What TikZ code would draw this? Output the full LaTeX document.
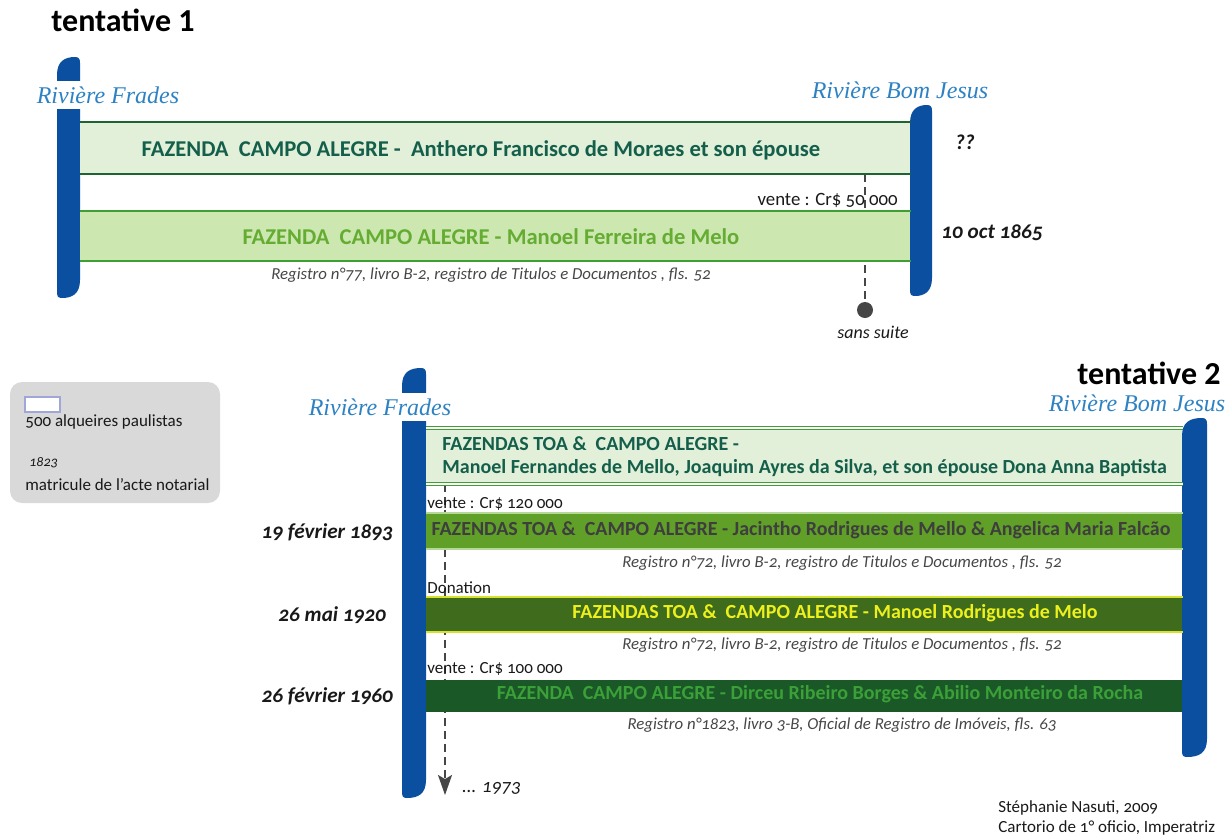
\documentclass[tikz,border=0pt]{standalone}
\usepackage{fontspec}
\setmainfont{Carlito}[Numbers=OldStyle]
\newfontfamily\riverfont{Liberation Serif}
\usetikzlibrary{arrows.meta,backgrounds}

\tikzset{
  bandbox/.style={anchor=north west, inner sep=0pt, minimum width=#1},
  bandtext/.style={font=\bfseries\fontsize{10}{11.5}\selectfont, inner sep=0pt},
  rivername/.style={font=\riverfont\itshape\fontsize{12}{14}\selectfont, text=rivertext, fill=white, inner xsep=1pt, inner ysep=3pt},
  datelabel/.style={font=\bfseries\itshape\fontsize{10.6}{12}\selectfont, text=ink},
  registre/.style={font=\itshape\fontsize{8.4}{10}\selectfont, text=note},
  transaction/.style={font=\fontsize{8.5}{10}\selectfont, text=ink, inner sep=0pt},
  tracer/.style={draw=note, line width=0.8pt, dash pattern=on 4pt off 2.5pt},
  heading/.style={font=\bfseries\fontsize{16}{18}\selectfont\addfontfeatures{Numbers=Lining}, text=black, inner sep=0pt}
}

\begin{document}
\begin{tikzpicture}[x=0.5pt,y=-0.5pt,font=\fontsize{8.5}{10}\selectfont]
  \definecolor{riverblue}{RGB}{11,79,160}
  \definecolor{rivertext}{RGB}{45,130,195}
  \definecolor{paleleaf}{RGB}{226,239,217}
  \definecolor{lightleaf}{RGB}{205,231,176}
  \definecolor{midleaf}{RGB}{96,160,40}
  \definecolor{olive}{RGB}{62,108,28}
  \definecolor{forest}{RGB}{27,88,40}
  \definecolor{darkrule}{RGB}{30,100,50}
  \definecolor{grassrule}{RGB}{62,160,52}
  \definecolor{softrule}{RGB}{182,216,150}
  \definecolor{lemonrule}{RGB}{214,226,44}
  \definecolor{tealink}{RGB}{20,95,75}
  \definecolor{grassink}{RGB}{100,172,50}
  \definecolor{greyink}{RGB}{62,62,62}
  \definecolor{lemon}{RGB}{238,240,30}
  \definecolor{forestink}{RGB}{58,160,55}
  \definecolor{ink}{RGB}{25,25,25}
  \definecolor{note}{RGB}{70,70,70}
  \definecolor{legendgray}{RGB}{217,217,217}
  \definecolor{legendedge}{RGB}{160,166,215}

  \useasboundingbox (0,0) rectangle (1228,837);

  % river banks
  \foreach \xa/\ya/\xb/\yb in {57/57/80/298, 910/105/932/296, 402/368/426/798, 1182/418/1207/757} {
    \fill[riverblue] (\xa,\yb-4) -- (\xa,\ya+18)
      .. controls (\xa,\ya+4) and (\xa+8,\ya) .. (\xb-5,\ya)
      .. controls (\xb-1,\ya) and (\xb,\ya+2) .. (\xb,\ya+6)
      -- (\xb,\yb-18)
      .. controls (\xb,\yb-4) and (\xb-8,\yb) .. (\xa+5,\yb)
      .. controls (\xa+1,\yb) and (\xa,\yb-2) .. (\xa,\yb-4) -- cycle;
  }

  % tentative 1
  \node[heading] (title1) at (123,20) {tentative 1};
  \node[rivername] (frades1) at (108,95) {Rivière Frades};
  \node[rivername] (bomjesus1) at (900,90) {Rivière Bom Jesus};

  \node[bandbox=415pt, minimum height=25.5pt, fill=paleleaf] (b1) at (80,122) {};
  \node[bandbox=415pt, minimum height=24.5pt, fill=lightleaf] (b2) at (80,211) {};
  \draw[darkrule, line width=1pt] (b1.north west) -- (b1.north east) (b1.south west) -- (b1.south east);
  \draw[grassrule, line width=1pt] (b2.north west) -- (b2.north east) (b2.south west) -- (b2.south east);
  \node[bandtext, text=tealink, font=\bfseries\fontsize{11.3}{12}\selectfont] (b1t) at (481,150) {FAZENDA~ CAMPO ALEGRE -~ Anthero Francisco de Moraes et son épouse};
  \node[bandtext, text=grassink, font=\bfseries\fontsize{11.3}{12}\selectfont] (b2t) at (491,237) {FAZENDA~ CAMPO ALEGRE - Manoel Ferreira de Melo};

  \node[datelabel] (q1) at (965,142) {??};
  \node[datelabel] (d1) at (992,233) {10 oct 1865};
  \node[transaction, anchor=east, font=\fontsize{9.4}{11}\selectfont] (sale1) at (898,200) {vente : Cr\$ 50 000};
  \node[registre] (reg1) at (491,275) {Registro n°77, livro B-2, registro de Titulos e Documentos , fls. 52};

  \node[circle, fill=note, minimum size=8pt, inner sep=0pt] (stop1) at (865,310) {};
  \node[font=\itshape\fontsize{9}{10}\selectfont, text=ink] (nosuite) at (873,332) {sans suite};

  % legend
  \fill[legendgray, rounded corners=6pt] (10,382) rectangle (220,503);
  \node[draw=legendedge, line width=0.8pt, fill=white, minimum width=17.5pt, minimum height=7.5pt, inner sep=0pt] (key) at (42.5,404.5) {};
  \node[anchor=west, inner sep=0pt, text=ink] (keyarea) at (25,422) {500 alqueires paulistas};
  \node[anchor=west, inner sep=0pt, text=ink, font=\itshape\fontsize{7}{8}\selectfont] (keyno) at (29,463) {1823};
  \node[anchor=west, inner sep=0pt, text=ink] (keyact) at (25,485) {matricule de l’acte notarial};

  % tentative 2
  \node[heading, anchor=east] (title2) at (1221,373) {tentative 2};
  \node[rivername] (frades2) at (380,407) {Rivière Frades};
  \node[rivername] (bomjesus2) at (1137,403) {Rivière Bom Jesus};

  \node[bandbox=378pt, minimum height=27.5pt, fill=paleleaf] (bA) at (426,428) {};
  \node[bandbox=378pt, minimum height=17.5pt, fill=midleaf] (bB) at (426,513) {};
  \node[bandbox=378pt, minimum height=17pt, fill=olive] (bC) at (426,597) {};
  \node[bandbox=378pt, minimum height=16pt, fill=forest] (bD) at (426,680) {};
  \draw[grassrule, line width=0.5pt, double=white, double distance=1pt] (bA.north west) -- (bA.north east) (bA.south west) -- (bA.south east);
  \draw[softrule, line width=1pt] (bB.north west) -- (bB.north east) (bB.south west) -- (bB.south east);
  \draw[lemonrule, line width=1.2pt] (bC.north west) -- (bC.north east) (bC.south west) -- (bC.south east);

  \node[bandtext, text=tealink, anchor=west, align=left] (bAt) at (442,456.5) {FAZENDAS TOA \&~ CAMPO ALEGRE -\\Manoel Fernandes de Mello, Joaquim Ayres da Silva, et son épouse Dona Anna Baptista};
  \node[bandtext, text=greyink] (bBt) at (801,530) {FAZENDAS TOA \&~ CAMPO ALEGRE - Jacintho Rodrigues de Mello \& Angelica Maria Falcão};
  \node[bandtext, text=lemon] (bCt) at (835,613) {FAZENDAS TOA \&~ CAMPO ALEGRE - Manoel Rodrigues de Melo};
  \node[bandtext, text=forestink] (bDt) at (820,694) {FAZENDA~ CAMPO ALEGRE - Dirceu Ribeiro Borges \& Abilio Monteiro da Rocha};

  \foreach \name/\yy/\txt in {sale2/504/{vente : Cr\$ 120 000}, gift/588/{Donation}, sale3/669/{vente : Cr\$ 100 000}} {
    \node[transaction, anchor=west] (\name) at (427,\yy) {\txt};
  }
  \foreach \name/\xx/\yy/\txt in {d2/400/532/{19 février 1893}, d3/393/615/{26 mai 1920}, d4/400/696/{26 février 1960}} {
    \node[datelabel, anchor=east] (\name) at (\xx,\yy) {\txt};
  }
  \foreach \name/\yy/\txt in {
    reg2/563/{Registro n°72, livro B-2, registro de Titulos e Documentos , fls. 52},
    reg3/645/{Registro n°72, livro B-2, registro de Titulos e Documentos , fls. 52},
    reg4/725/{Registro n°1823, livro 3-B, Oficial de Registro de Imóveis, fls. 63}
  } {
    \node[registre] (\name) at (842,\yy) {\txt};
  }

  \coordinate (fin) at (445,795);
  \node[anchor=west, font=\itshape\fontsize{9.5}{11}\selectfont, text=ink] (late) at (455,788) {... 1973};
  \node[anchor=west, align=left, text=ink, inner sep=0pt] (credit) at (998,818) {Stéphanie Nasuti, 2009\\Cartorio de 1° oficio, Imperatriz};

  % traces of the sales, behind the bands
  \begin{scope}[on background layer]
    \draw[tracer] (b1.south -| stop1) -- (stop1);
    \draw[tracer, -{Stealth[length=10pt, width=7pt, inset=2pt]}] (bA.south -| fin) -- (fin);
  \end{scope}
\end{tikzpicture}
\end{document}
